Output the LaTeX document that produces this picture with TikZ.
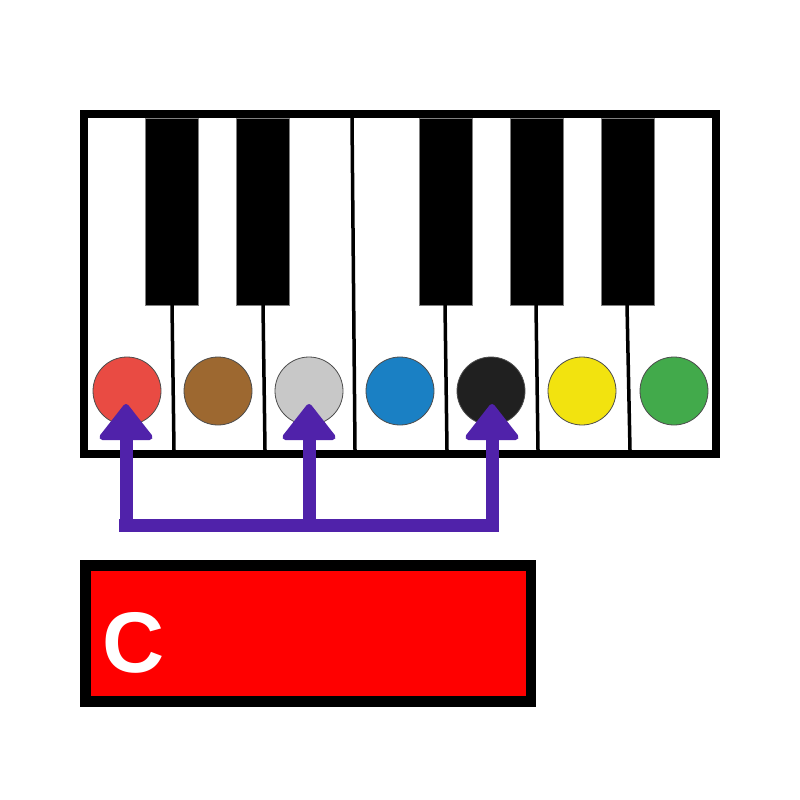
\documentclass[tikz,border=0pt]{standalone}
\usepackage{fontspec}
\setsansfont{Liberation Sans}
\usetikzlibrary{arrows.meta}
\definecolor{kred}{RGB}{233,75,67}
\definecolor{kbrown}{RGB}{157,104,48}
\definecolor{kgray}{RGB}{200,200,200}
\definecolor{kblue}{RGB}{26,128,196}
\definecolor{kblack}{RGB}{32,32,32}
\definecolor{kyellow}{RGB}{242,227,15}
\definecolor{kgreen}{RGB}{66,170,75}
\definecolor{kpurple}{RGB}{80,34,170}
\begin{document}
\begin{tikzpicture}[x=1pt, y=-1pt,
  dot/.style = {circle, draw=black!70, line width=0.8pt, minimum size=68pt, inner sep=0pt},
  blackkey/.style = {fill=black, draw=black!50, line width=0.6pt},
  sep/.style = {line width=3.5pt},
  link/.style = {draw=kpurple, line width=13pt},
  tip/.style = {-{Triangle[length=38pt, width=58pt, line width=6pt, round]}}]
\useasboundingbox (0,0) rectangle (800,800);

% keyboard
\fill[white] (84,114) rectangle (716,453);
\draw[blackkey] (145,118) rectangle (198,305);
\draw[blackkey] (236,118) rectangle (289,305);
\draw[blackkey] (419,118) rectangle (472,305);
\draw[blackkey] (510,118) rectangle (563,305);
\draw[blackkey] (601,118) rectangle (654,305);
\draw[sep] (172,305) -- (174,450);
\draw[sep] (263,305) -- (265,450);
\draw[sep] (352,118) -- (355,450);
\draw[sep] (445,305) -- (447,450);
\draw[sep] (536,305) -- (538,450);
\draw[sep] (627,305) -- (630,450);
\draw[line width=8pt] (84,114) rectangle (716,453.5);

% colour dots
\node[dot, fill=kred] (c) at (127,391) {};
\node[dot, fill=kbrown] (d) at (218,391) {};
\node[dot, fill=kgray] (e) at (309,391) {};
\node[dot, fill=kblue] (f) at (400,391) {};
\node[dot, fill=kblack] (g) at (491,391) {};
\node[dot, fill=kyellow] (a) at (582,391) {};
\node[dot, fill=kgreen] (b) at (674,391) {};

% chord bracket
\coordinate (start) at (119,525);
\coordinate (mid) at (320,525);
\coordinate (end) at (498.5,525);
\draw[link] (start) -- (mid);
\draw[link] (mid) -- (end);
\draw[link, tip] ([xshift=-1pt]c.center |- start) -- ([xshift=-1pt, yshift=-13pt]c.center);
\draw[link, tip] (e.center |- start) -- ([yshift=-13pt]e.center);
\draw[link, tip] ([xshift=1pt]g.center |- start) -- ([xshift=1pt, yshift=-13pt]g.center);

% chord name
\draw[fill=red, line width=10.5pt] (85.5,565.5) rectangle (531,701.5);
\node[anchor=base west, inner sep=0pt, text=white, font=\sffamily\bfseries\fontsize{86}{86}\selectfont] (name) at (102,672) {C};
\end{tikzpicture}
\end{document}
